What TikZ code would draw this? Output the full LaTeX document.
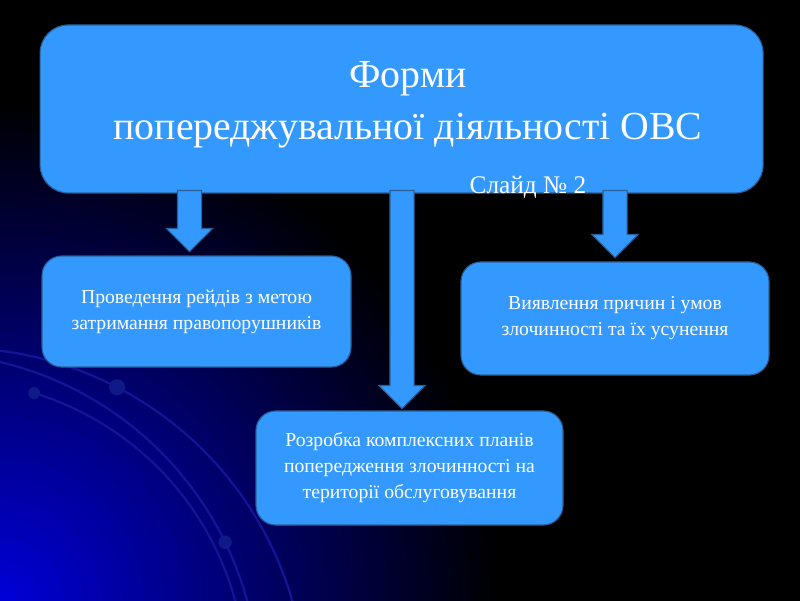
\documentclass[tikz,border=0pt]{standalone}
\usepackage{fontspec}
\setmainfont{Liberation Serif}
\usetikzlibrary{positioning,shapes.arrows,calc}

\definecolor{boxblue}{RGB}{51,153,255}
\definecolor{boxline}{RGB}{40,95,150}
\definecolor{arcblue}{RGB}{20,20,150}
\definecolor{dotblue}{RGB}{15,25,135}

\begin{document}
\begin{tikzpicture}[
    box/.style={rectangle, draw=boxline, line width=0.8pt, fill=boxblue, rounded corners=14pt,
                text=white, align=center, font=\fontsize{14}{18.5}\selectfont},
    blockarrow/.style={single arrow, draw=boxline, line width=0.8pt, fill=boxblue,
                rotate=-90, anchor=tail, inner xsep=0pt, inner ysep=0.2875cm,
                single arrow head extend=0.275cm, single arrow tip angle=90},
    swoosh/.style={draw=arcblue, line width=1.6pt}
]
\useasboundingbox (0,0) rectangle (20,15);
% background
\fill[black] (-0.2,-0.2) rectangle (20.2,15.2);
\begin{scope}
\clip (-0.2,-0.2) rectangle (20.2,15.2);
\shade[inner color={rgb,255:red,0;green,0;blue,215}, outer color=black] (0,0) circle (12.5cm);
\draw[swoosh] (-1.1,-2.45) ++(95:8.75) arc (95:10:8.75);
\draw[swoosh] (-1.9475,-2.25) ++(85:8.4275) arc (85:10:8.4275);
\draw[swoosh] (-1.3475,-1.985) ++(72.9:7.49) arc (72.9:10:7.49);
\fill[dotblue] ($(-1.1,-2.45)+(62.6:8.75)$) circle (0.2);
\fill[dotblue] ($(-1.3475,-1.985)+(72.9:7.49)$) circle (0.15);
\fill[dotblue] ($(-1.9475,-2.25)+(26:8.4275)$) circle (0.17);
\end{scope}

% boxes
\node[box, minimum width=18.075cm, minimum height=4.2cm, rounded corners=20pt] (forms) at (10.04,12.275) {};
\node[text=white, align=center, font=\fontsize{28.3}{37}\selectfont] (title) at ($(forms.center)+(0.16,0.1)$)
    {Форми\\попереджувальної діяльності ОВС};
\node[box, minimum width=7.725cm, minimum height=2.775cm] (raids) at (4.9125,7.2125)
    {Проведення рейдів з метою\\затримання правопорушників};
\node[box, minimum width=7.7cm, minimum height=2.825cm] (causes) at (15.375,7.0375)
    {Виявлення причин і умов\\злочинності та їх усунення};
\node[box, minimum width=7.675cm, minimum height=2.85cm] (plans) at (10.2375,3.3)
    {Розробка комплексних планів\\попередження злочинності на\\території обслуговування};

% arrows
\node[blockarrow, minimum height=1.525cm] (arrL) at (4.7375,10.25) {};
\node[blockarrow, minimum height=5.45cm] (arrM) at (10.05,10.25) {};
\node[blockarrow, minimum height=1.675cm] (arrR) at (15.375,10.25) {};

\node[text=white, font=\fontsize{18}{22}\selectfont] (slide) at (13.2,10.325) {Слайд № 2};
\end{tikzpicture}
\end{document}
